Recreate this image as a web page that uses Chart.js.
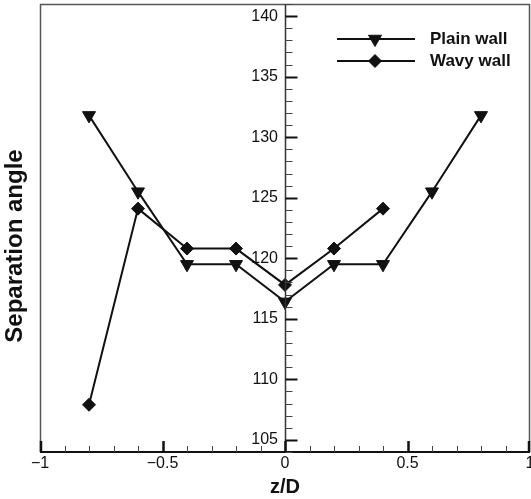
<!DOCTYPE html>
<html>
<head>
<meta charset="utf-8">
<script src="https://cdn.jsdelivr.net/npm/chart.js@4"></script>
<style>
html,body{margin:0;padding:0;background:#fff;}
#c{display:block;}
</style>
</head>
<body>
<canvas id="c" width="531" height="499"></canvas>
<script>
// ---- data ----
const zPlain = [-0.8, -0.6, -0.4, -0.2, 0, 0.2, 0.4, 0.6, 0.8];
const plainWall = [131.8, 125.5, 119.5, 119.5, 116.4, 119.5, 119.5, 125.5, 131.8];
const zWavy = [-0.8, -0.6, -0.4, -0.2, 0, 0.2, 0.4];
const wavyWall = [107.9, 124.1, 120.8, 120.8, 117.8, 120.8, 124.1];
const seriesNames = ['Plain wall', 'Wavy wall'];
const xTickValues = [-1, -0.5, 0, 0.5, 1];
const yTickValues = [105, 110, 115, 120, 125, 130, 135, 140];
const xTitle = 'z/D';
const yTitle = 'Separation angle';

const INK = '#111';
const FONT = 'Liberation Sans, Arial, Helvetica, sans-serif';

function fmtX(v) {
  if (Math.abs(v) < 1e-9) return '0';
  return (v < 0 ? '\u2212' : '') + String(Math.abs(v));
}

const decor = {
  id: 'decor',
  afterDraw(chart) {
    const ctx = chart.ctx;
    const a = chart.chartArea;
    const xs = chart.scales.x, ys = chart.scales.y;
    ctx.save();
    // frame
    ctx.strokeStyle = '#555';
    ctx.lineWidth = 1.5;
    ctx.beginPath();
    ctx.moveTo(a.left + 0.5, a.bottom);
    ctx.lineTo(a.left + 0.5, a.top + 0.5);
    ctx.lineTo(a.right - 0.5, a.top + 0.5);
    ctx.lineTo(a.right - 0.5, a.bottom);
    ctx.stroke();
    // bottom axis
    ctx.strokeStyle = INK;
    ctx.lineWidth = 2;
    ctx.beginPath();
    ctx.moveTo(a.left, a.bottom);
    ctx.lineTo(a.right, a.bottom);
    ctx.stroke();
    // vertical axis at z/D = 0
    const x0 = Math.round(xs.getPixelForValue(0)) + 0.5;
    ctx.lineWidth = 1.5;
    ctx.strokeStyle = '#333';
    ctx.beginPath();
    ctx.moveTo(x0, a.top);
    ctx.lineTo(x0, a.bottom);
    ctx.stroke();
    // y ticks (inside, right of axis)
    for (let v = Math.ceil(ys.min); v <= ys.max; v++) {
      const major = v % 5 === 0;
      const py = Math.round(ys.getPixelForValue(v)) + 0.5;
      ctx.lineWidth = major ? 2 : 1;
      ctx.strokeStyle = major ? INK : '#444';
      ctx.beginPath();
      ctx.moveTo(x0, py);
      ctx.lineTo(x0 + (major ? 12 : 7), py);
      ctx.stroke();
    }
    // x ticks (inside, up from bottom)
    for (let i = -10; i <= 10; i++) {
      const v = i / 10;
      const major = i % 5 === 0;
      let px = Math.round(xs.getPixelForValue(v)) + 0.5;
      if (i === -10) px = a.left + 1;
      if (i === 10) px = a.right - 1;
      ctx.lineWidth = major ? 2.5 : 1;
      ctx.strokeStyle = major ? INK : '#444';
      ctx.beginPath();
      ctx.moveTo(px, a.bottom);
      ctx.lineTo(px, a.bottom - (major ? 11 : 6));
      ctx.stroke();
    }
    // y title
    ctx.fillStyle = INK;
    ctx.font = 'bold 24px ' + FONT;
    ctx.textAlign = 'center';
    ctx.textBaseline = 'middle';
    ctx.translate(15, 246);
    ctx.rotate(-Math.PI / 2);
    ctx.fillText(yTitle, 0, 0);
    ctx.restore();

    // legend
    ctx.save();
    const rows = [39, 61];
    chart.data.datasets.forEach((ds, i) => {
      const y = rows[i];
      ctx.strokeStyle = ds.borderColor;
      ctx.lineWidth = ds.borderWidth;
      ctx.beginPath();
      ctx.moveTo(337, y);
      ctx.lineTo(415, y);
      ctx.stroke();
      ctx.fillStyle = ds.pointBackgroundColor;
      ctx.strokeStyle = ds.pointBorderColor;
      ctx.lineWidth = 1;
      Chart.helpers.drawPoint(ctx, {
        pointStyle: ds.pointStyle, radius: ds.pointRadius,
        rotation: ds.pointRotation || 0, borderWidth: 1
      }, 375, y);
      ctx.fillStyle = INK;
      ctx.font = 'bold 17px ' + FONT;
      ctx.textAlign = 'left';
      ctx.textBaseline = 'middle';
      ctx.fillText(ds.label, 430, y);
    });
    ctx.restore();
  }
};

new Chart(document.getElementById('c'), {
  type: 'scatter',
  data: {
    datasets: [
      {
        label: seriesNames[0],
        data: zPlain.map((z, i) => ({x: z, y: plainWall[i]})),
        showLine: true,
        borderColor: INK, borderWidth: 2,
        pointStyle: 'triangle', pointRotation: 180, pointRadius: 7.5,
        pointBackgroundColor: INK, pointBorderColor: INK, pointBorderWidth: 1,
        tension: 0
      },
      {
        label: seriesNames[1],
        data: zWavy.map((z, i) => ({x: z, y: wavyWall[i]})),
        showLine: true,
        borderColor: INK, borderWidth: 2,
        pointStyle: 'rectRot', pointRadius: 6.5,
        pointBackgroundColor: INK, pointBorderColor: INK, pointBorderWidth: 1,
        tension: 0
      }
    ]
  },
  options: {
    responsive: false,
    animation: false,
    devicePixelRatio: 1,
    layout: {autoPadding: false, padding: {left: 40, top: 4, right: 1, bottom: 0}},
    plugins: {legend: {display: false}, tooltip: {enabled: false}},
    scales: {
      x: {
        type: 'linear', position: 'bottom', min: -1, max: 1,
        grid: {display: false, drawTicks: false},
        border: {display: false},
        afterBuildTicks: s => { s.ticks = xTickValues.map(v => ({value: v})); },
        ticks: {
          color: INK, font: {family: FONT, size: 16}, padding: 2,
          maxRotation: 0, autoSkip: false,
          callback: v => fmtX(v)
        },
        title: {display: true, text: xTitle, color: INK,
                font: {family: FONT, size: 20, weight: 'bold'}, padding: {top: 0, bottom: 0}},
        afterFit: s => { s.height = 47; s.paddingLeft = 0; s.paddingRight = 0; }
      },
      y: {
        type: 'linear', min: 104, max: 141,
        // labels sit just left of the z/D = 0 axis line (7 px gap)
        position: {x: -0.0286},
        grid: {display: false, drawTicks: false},
        border: {display: false},
        afterBuildTicks: s => { s.ticks = yTickValues.map(v => ({value: v})); },
        ticks: {color: INK, font: {family: FONT, size: 16}, padding: 7, autoSkip: false},
        afterFit: s => { s.paddingTop = 0; s.paddingBottom = 0; }
      }
    }
  },
  plugins: [decor]
});
</script>
</body>
</html>
